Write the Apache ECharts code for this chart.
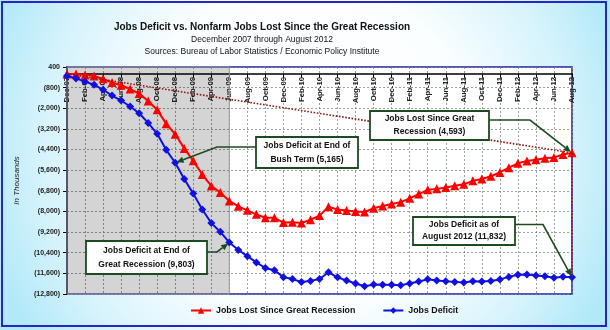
<!DOCTYPE html>
<html>
<head>
<meta charset="utf-8">
<script src="https://cdn.jsdelivr.net/npm/echarts@6/dist/echarts.min.js"></script>
<style>
  html, body { margin: 0; padding: 0; background: #ffffff; }
  #chart { width: 610px; height: 330px; }
</style>
</head>
<body>
<div id="chart"></div>
<script>
// Monthly categories, December 2007 through August 2012
const months = [
  'Dec-07',
  'Jan-08','Feb-08','Mar-08','Apr-08','May-08','Jun-08','Jul-08','Aug-08','Sep-08','Oct-08','Nov-08','Dec-08',
  'Jan-09','Feb-09','Mar-09','Apr-09','May-09','Jun-09','Jul-09','Aug-09','Sep-09','Oct-09','Nov-09','Dec-09',
  'Jan-10','Feb-10','Mar-10','Apr-10','May-10','Jun-10','Jul-10','Aug-10','Sep-10','Oct-10','Nov-10','Dec-10',
  'Jan-11','Feb-11','Mar-11','Apr-11','May-11','Jun-11','Jul-11','Aug-11','Sep-11','Oct-11','Nov-11','Dec-11',
  'Jan-12','Feb-12','Mar-12','Apr-12','May-12','Jun-12','Jul-12','Aug-12'
];

// Cumulative nonfarm jobs lost since December 2007 (thousands)
const jobsLost = [
  0, -9, -72, -124, -289, -502, -660, -881, -1148, -1582, -2091, -2893, -3514,
  -4332, -5058, -5854, -6514, -6900, -7390, -7700, -7933, -8169, -8368, -8370, -8645,
  -8631, -8670, -8481, -8242, -7726, -7893, -7951, -8002, -8029, -7809, -7688, -7568,
  -7458, -7238, -6992, -6741, -6687, -6603, -6507, -6422, -6220, -6108, -5951, -5728,
  -5455, -5200, -5060, -4995, -4910, -4866, -4690, -4593
];

// Jobs deficit: jobs lost plus jobs needed to keep pace with population growth (thousands)
const jobsDeficit = [
  -127, -263, -453, -632, -924, -1264, -1549, -1897, -2291, -2852, -3488, -4417, -5165,
  -6110, -6963, -7886, -8673, -9186, -9803, -10240, -10600, -10963, -11289, -11418, -11820,
  -11933, -12099, -12037, -11925, -11536, -11830, -12015, -12193, -12347, -12254, -12260, -12267,
  -12284, -12191, -12072, -11948, -12021, -12064, -12095, -12137, -12062, -12077, -12047, -11951,
  -11805, -11677, -11664, -11726, -11768, -11851, -11802, -11832
];

// Recession period and reference months for the callouts
const recessionStart = 'Dec-07';
const recessionEnd = 'Jun-09';
const bushTermEnd = 'Dec-08';

// Value axis range and step (thousands)
const yMin = -12800;
const yMax = 400;
const yStep = 1200;

const FONT = "'Liberation Sans', Arial, Helvetica, sans-serif";
const RED = '#ff0000';
const BLUE = '#1010e0';
const GREEN = '#1e4a22';

const GRID = { left: 67, right: 38, top: 67, bottom: 36 };
const CHART_H = 330;
const plotH = CHART_H - GRID.top - GRID.bottom;
// distance from the top of the plot down to the zero line
const zeroDrop = plotH * yMax / (yMax - yMin);

function withCommas(n) {
  return String(Math.round(Math.abs(n))).replace(/\B(?=(\d{3})+(?!\d))/g, ',');
}
function acctFormat(v) {
  return v < 0 ? '(' + withCommas(v) + ')' : withCommas(v);
}

const last = months.length - 1;
const chart = echarts.init(document.getElementById('chart'), null, { renderer: 'canvas' });

const option = {
  animation: false,
  textStyle: { fontFamily: FONT },
  backgroundColor: {
    type: 'radial', x: 0.5, y: 0.45, r: 1.0,
    colorStops: [
      { offset: 0, color: '#ffffff' },
      { offset: 0.5, color: '#fbfeff' },
      { offset: 0.8, color: '#d6f3fc' },
      { offset: 1, color: '#b2e9f8' }
    ]
  },
  grid: Object.assign({
    show: true, backgroundColor: '#ffffff',
    borderColor: '#1c1cb0', borderWidth: 1.5
  }, GRID),
  legend: {
    top: 306, left: 190, padding: 0,
    itemGap: 27, itemWidth: 20, itemHeight: 8,
    textStyle: { fontFamily: FONT, fontSize: 8.8, fontWeight: 'bold', color: '#111' },
    data: ['Jobs Lost Since Great Recession', 'Jobs Deficit']
  },
  xAxis: {
    type: 'category',
    data: months,
    boundaryGap: false,
    position: 'top',
    offset: -zeroDrop,
    axisLine: { onZero: false, lineStyle: { color: '#000', width: 1.5 } },
    axisTick: { show: true, inside: true, interval: 1, length: 4, lineStyle: { color: '#000' } },
    axisLabel: {
      inside: true, interval: 1, rotate: -90, margin: 3,
      fontFamily: FONT, fontSize: 7.8, fontWeight: 'bold', color: '#222'
    },
    splitLine: { show: true, interval: 1, lineStyle: { color: '#7a8a7a', type: [2, 2], width: 0.8 } }
  },
  yAxis: {
    type: 'value',
    min: yMin, max: yMax, interval: yStep,
    name: 'In Thousands', nameLocation: 'middle', nameGap: 46,
    nameTextStyle: { fontFamily: FONT, fontStyle: 'italic', fontSize: 8, color: '#222' },
    axisLine: { show: true, onZero: false, lineStyle: { color: '#000', width: 1.5 } },
    axisTick: { show: true, length: 4, lineStyle: { color: '#000' } },
    axisLabel: {
      formatter: acctFormat, margin: 7,
      fontFamily: FONT, fontSize: 7, fontWeight: 'bold', color: '#222'
    },
    splitLine: { show: true, lineStyle: { color: '#7a8a7a', type: [2, 2], width: 0.8 } }
  },
  series: [
    {
      name: 'Jobs Lost Since Great Recession',
      type: 'line',
      data: jobsLost,
      symbol: 'triangle', symbolSize: 9, showAllSymbol: true,
      lineStyle: { color: RED, width: 2 },
      itemStyle: { color: RED },
      z: 3,
      markArea: {
        silent: true,
        itemStyle: { color: 'rgba(0,0,0,0.17)', borderColor: '#9a9a9a', borderWidth: 1 },
        data: [[{ xAxis: recessionStart }, { xAxis: recessionEnd }]]
      },
      markLine: {
        silent: true, symbol: 'none',
        label: { show: false },
        lineStyle: { color: '#8b1a1a', type: 'dotted', width: 1.6 },
        data: [
          [{ coord: [months[0], jobsLost[0]] }, { coord: [months[last], jobsLost[last]] }],
          [{ coord: [months[last], jobsLost[last]] }, { coord: [months[last], jobsDeficit[last]] }]
        ]
      }
    },
    {
      name: 'Jobs Deficit',
      type: 'line',
      data: jobsDeficit,
      symbol: 'diamond', symbolSize: 8, showAllSymbol: true,
      lineStyle: { color: BLUE, width: 2 },
      itemStyle: { color: BLUE },
      z: 4
    }
  ]
};

chart.setOption(option);

// Callout boxes with elbow arrows pointing at a data point
function callout(c) {
  const tip = chart.convertToPixel({ gridIndex: 0 }, [c.idx, c.value]);
  const pts = c.path.slice();
  const prev = pts[pts.length - 1];
  const dx = tip[0] - prev[0], dy = tip[1] - prev[1];
  const len = Math.hypot(dx, dy) || 1;
  const ux = dx / len, uy = dy / len;
  const end = [tip[0] - ux * 1.5, tip[1] - uy * 1.5];
  const head = 7, half = 3.2;
  const base = [end[0] - ux * head, end[1] - uy * head];
  const els = [];
  els.push({
    type: 'polyline', z: 20,
    shape: { points: pts.concat([base]) },
    style: { stroke: GREEN, lineWidth: 1.6, fill: null }
  });
  els.push({
    type: 'polygon', z: 20,
    shape: { points: [end, [base[0] - uy * half, base[1] + ux * half], [base[0] + uy * half, base[1] - ux * half]] },
    style: { fill: GREEN }
  });
  els.push({
    type: 'rect', z: 21,
    shape: { x: c.box[0], y: c.box[1], width: c.box[2], height: c.box[3] },
    style: { fill: '#ffffff', stroke: GREEN, lineWidth: 1.8 }
  });
  const cx = c.box[0] + c.box[2] / 2;
  const cy = c.box[1] + c.box[3] / 2;
  c.lines.forEach((t, k) => {
    els.push({
      type: 'text', z: 22,
      style: {
        text: t, x: cx, y: cy + (k - (c.lines.length - 1) / 2) * c.gap,
        textAlign: 'center', textVerticalAlign: 'middle',
        font: 'bold 8.5px ' + FONT, fill: '#111'
      }
    });
  });
  return els;
}

const iBush = months.indexOf(bushTermEnd);
const iEnd = months.indexOf(recessionEnd);

const callouts = [
  {
    idx: iBush, value: jobsDeficit[iBush],
    box: [256, 137, 102, 31], gap: 13.5,
    lines: ['Jobs Deficit at End of', 'Bush Term (' + withCommas(jobsDeficit[iBush]) + ')'],
    path: [[256, 147], [217, 147]]
  },
  {
    idx: iEnd, value: jobsDeficit[iEnd],
    box: [86, 241, 121, 33], gap: 14,
    lines: ['Jobs Deficit at End of', 'Great Recession (' + withCommas(jobsDeficit[iEnd]) + ')'],
    path: [[207, 252], [217, 252]]
  },
  {
    idx: last, value: jobsLost[last],
    box: [370, 111, 119, 29], gap: 12.8,
    lines: ['Jobs Lost Since Great', 'Recession (' + withCommas(jobsLost[last]) + ')'],
    path: [[489, 120], [530, 120]]
  },
  {
    idx: last, value: jobsDeficit[last],
    box: [413, 217, 102, 28], gap: 12,
    lines: ['Jobs Deficit as of', 'August 2012 (' + withCommas(jobsDeficit[last]) + ')'],
    path: [[515, 224.5], [543, 224.5]]
  }
];

let graphics = [
  {
    type: 'rect', z: 30, silent: true,
    shape: { x: 2, y: 2, width: 604, height: 324 },
    style: { fill: null, stroke: '#2626c4', lineWidth: 2 }
  },
  {
    type: 'text', z: 30,
    style: { text: 'Jobs Deficit vs. Nonfarm Jobs Lost Since the Great Recession', x: 262, y: 27,
      textAlign: 'center', textVerticalAlign: 'middle', font: 'bold 10px ' + FONT, fill: '#111' }
  },
  {
    type: 'text', z: 30,
    style: { text: 'December 2007 through August 2012', x: 262, y: 40,
      textAlign: 'center', textVerticalAlign: 'middle', font: '8.5px ' + FONT, fill: '#111' }
  },
  {
    type: 'text', z: 30,
    style: { text: 'Sources: Bureau of Labor Statistics / Economic Policy Institute', x: 262, y: 52,
      textAlign: 'center', textVerticalAlign: 'middle', font: '8.5px ' + FONT, fill: '#111' }
  }
];
callouts.forEach(c => { graphics = graphics.concat(callout(c)); });

chart.setOption({ graphic: graphics });
</script>
</body>
</html>
